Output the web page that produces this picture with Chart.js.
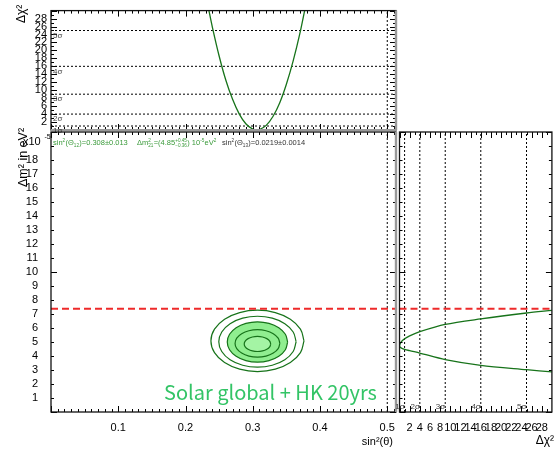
<!DOCTYPE html>
<html><head><meta charset="utf-8">
<script src="https://cdn.jsdelivr.net/npm/chart.js@4.4.1/dist/chart.umd.min.js"></script>
<style>
html,body{margin:0;padding:0;background:#fff;}
#wrap{position:relative;width:557px;height:452px;overflow:hidden;}
canvas{position:absolute;left:0;top:0;}
</style></head><body>
<div id="wrap">
<canvas id="cTop" width="557" height="452"></canvas>
<canvas id="cMain" width="557" height="452"></canvas>
<canvas id="cRight" width="557" height="452"></canvas>
</div>
<script>
// ---------------- data ----------------
const sin2Labels = [0.1, 0.2, 0.3, 0.4, 0.5];
const dm2Labels = [1,2,3,4,5,6,7,8,9,10,11,12,13,14,15,16,17,18];
const chi2Labels = [2,4,6,8,10,12,14,16,18,20,22,24,26,28];
const sigmaChi2 = [1, 4, 9, 16, 25];
const sigmaNames = ['1σ','2σ','3σ','4σ','5σ'];
const dm2KamLAND = 7.38;
const sin2Guide = 0.5;
const sin2Min = 0, sin2Max = 0.513;
const dm2Min = 0, dm2Max = 20;
const chi2Min = 0, chi2Max = 30;

// top panel: delta chi2 vs sin2(theta12)
const topSin2 = [0.234,0.24,0.25,0.26,0.27,0.28,0.29,0.30,0.306,0.31,0.32,0.33,0.34,0.35,0.36,0.37,0.38];
const topChi2 = [30.7,25.8,18.6,12.5,7.7,4.0,1.5,0.21,0,0.09,1.16,3.4,6.8,11.5,17.3,24.2,32.4];

// right panel: delta chi2 vs dm2
const rightChi2 = [30,25,16,9,4,2,1,0.3,0,0.3,1,2,4,9,16,25,30];
const rightDm2  = [2.86,3.02,3.33,3.74,4.21,4.38,4.475,4.58,4.71,4.99,5.23,5.44,5.74,6.26,6.65,7.07,7.26];

// contours (sin2, dm2)
const c1Sin2 = [0.3267,0.3252,0.3209,0.3145,0.307,0.2995,0.2931,0.2888,0.2873,0.2888,0.2931,0.2995,0.307,0.3145,0.3209,0.3252,0.3267];
const c1Dm2  = [4.86,5.067,5.242,5.359,5.40,5.359,5.242,5.067,4.86,4.653,4.478,4.361,4.32,4.361,4.478,4.653,4.86];
const c2Sin2 = [0.3403,0.3378,0.3305,0.3197,0.307,0.2943,0.2835,0.2762,0.2737,0.2762,0.2835,0.2943,0.307,0.3197,0.3305,0.3378,0.3403];
const c2Dm2  = [4.90,5.275,5.593,5.805,5.88,5.805,5.593,5.275,4.90,4.525,4.207,3.995,3.92,3.995,4.207,4.525,4.90];
const c3Sin2 = [0.3519,0.3485,0.3387,0.3242,0.307,0.2898,0.2753,0.2655,0.2621,0.2655,0.2753,0.2898,0.307,0.3242,0.3387,0.3485,0.3519];
const c3Dm2  = [5.00,5.551,6.018,6.33,6.44,6.33,6.018,5.551,5.00,4.449,3.982,3.67,3.56,3.67,3.982,4.449,5.00];
const c4Sin2 = [0.3645,0.3601,0.3477,0.329,0.307,0.285,0.2663,0.2539,0.2495,0.2539,0.2663,0.285,0.307,0.329,0.3477,0.3601,0.3645];
const c4Dm2  = [5.02,5.717,6.307,6.701,6.84,6.701,6.307,5.717,5.02,4.323,3.733,3.339,3.20,3.339,3.733,4.323,5.02];
const c5Sin2 = [0.3762,0.3709,0.3559,0.3335,0.307,0.2805,0.2581,0.2431,0.2378,0.2431,0.2581,0.2805,0.307,0.3335,0.3559,0.3709,0.3762];
const c5Dm2  = [5.08,5.918,6.628,7.103,7.27,7.103,6.628,5.918,5.08,4.242,3.532,3.057,2.89,3.057,3.532,4.242,5.08];

// ---------------- helpers ----------------
const FONT = '"Liberation Sans", Arial, Helvetica, sans-serif';
Chart.defaults.font.family = FONT;
Chart.defaults.color = '#000';
function zip(xs, ys){ return xs.map((x,i)=>({x:x, y:ys[i]})); }
function hSeg(y, x0, x1){ return [{x:x0,y:y},{x:x1,y:y}]; }
function vSeg(x, y0, y1){ return [{x:x,y:y0},{x:x,y:y1}]; }
function steps(min, max, step){ const o=[]; for(let i=0; min+i*step<=max+1e-9; i++) o.push(+(min+i*step).toFixed(6)); return o; }
function isMul(v, m){ const r=v/m; return Math.abs(r-Math.round(r))<1e-6; }

const GREEN = '#17731a';
const DOT = [2,2];

function lineDs(data, color, width, dash, order, extra){
  return Object.assign({data:data, showLine:true, borderColor:color, borderWidth:width,
    borderDash:dash||[], pointRadius:0, fill:false, tension:0, order:order}, extra||{});
}

function drawRich(ctx, x, y, parts, base, color){
  ctx.fillStyle = color; ctx.textAlign='left'; ctx.textBaseline='alphabetic';
  for (const p of parts){
    if (typeof p === 'string'){
      ctx.font = base+'px '+FONT; ctx.fillText(p, x, y); x += ctx.measureText(p).width;
    } else {
      const s = base*0.62; ctx.font = s+'px '+FONT; let w = 0;
      if (p.sup){ ctx.fillText(p.sup, x, y-base*0.42); w = Math.max(w, ctx.measureText(p.sup).width); }
      if (p.sub){ ctx.fillText(p.sub, x, y+base*0.25); w = Math.max(w, ctx.measureText(p.sub).width); }
      x += w + 0.3;
    }
  }
}

function makeDecor(cfg){
  return {
    id: 'decor_'+cfg.name,
    afterDraw(chart){
      const ctx = chart.ctx, a = chart.chartArea, xs = chart.scales.x, ys = chart.scales.y;
      ctx.save();
      ctx.strokeStyle = '#000'; ctx.lineWidth = 1;
      ctx.beginPath();
      for (const t of cfg.xTicks){
        const len = isMul(t, cfg.xMajor) ? 6 : 3;
        const p = Math.round(xs.getPixelForValue(t))+0.5;
        if (p < a.left-0.5 || p > a.right+0.5) continue;
        ctx.moveTo(p, a.bottom); ctx.lineTo(p, a.bottom-len);
        ctx.moveTo(p, a.top); ctx.lineTo(p, a.top+len);
      }
      for (const t of cfg.yTicks){
        const len = isMul(t, cfg.yMajor) ? 6 : 3;
        const p = Math.round(ys.getPixelForValue(t))+0.5;
        if (p < a.top-0.5 || p > a.bottom+0.5) continue;
        ctx.moveTo(a.left, p); ctx.lineTo(a.left+len, p);
        ctx.moveTo(a.right, p); ctx.lineTo(a.right-len, p);
      }
      ctx.stroke();
      // frame
      ctx.lineWidth = 1.3; ctx.strokeStyle = '#111';
      ctx.strokeRect(a.left, a.top, a.right-a.left, a.bottom-a.top);
      if (cfg.grayRight){
        ctx.strokeStyle = '#999'; ctx.lineWidth = 2.4;
        ctx.beginPath(); ctx.moveTo(a.right, a.top); ctx.lineTo(a.right, a.bottom); ctx.stroke();
      }
      if (cfg.grayBottom){
        ctx.strokeStyle = '#999'; ctx.lineWidth = 2.2;
        ctx.beginPath(); ctx.moveTo(a.left, a.bottom); ctx.lineTo(a.right, a.bottom); ctx.stroke();
      }
      if (cfg.extra) cfg.extra(chart, ctx, a, xs, ys);
      ctx.restore();
    }
  };
}

function baseOptions(pad){
  return {
    responsive:false, animation:false, events:[],
    layout:{padding:pad},
    plugins:{legend:{display:false}, tooltip:{enabled:false}},
  };
}

// ---------------- top panel ----------------
const topDatasets = [lineDs(zip(topSin2, topChi2), GREEN, 1.3, null, 0, {tension:0.3})];
sigmaChi2.forEach(l => topDatasets.push(lineDs(hSeg(l, sin2Min, sin2Max), '#000', 1, DOT, 2)));
topDatasets.push(lineDs(vSeg(sin2Guide, chi2Min, chi2Max), '#000', 1, DOT, 2));

new Chart(document.getElementById('cTop'), {
  type:'scatter',
  data:{datasets: topDatasets},
  options: Object.assign(baseOptions({top:4, left:0, right:161, bottom:322}), {
    scales:{
      x:{type:'linear', display:false, min:sin2Min, max:sin2Max},
      y:{type:'linear', min:chi2Min, max:chi2Max,
         afterFit(s){ s.width = 51; },
         afterBuildTicks(s){ s.ticks = chi2Labels.map(v=>({value:v})); },
         grid:{display:false, drawTicks:false}, border:{display:false},
         ticks:{font:{size:11}, color:'#000', padding:4, autoSkip:false}}
    }
  }),
  plugins:[makeDecor({name:'top', xTicks:steps(0,0.51,0.01), xMajor:0.1, yTicks:steps(0,30,1), yMajor:2,
    grayRight:true, grayBottom:true,
    extra(chart, ctx, a, xs, ys){
      ctx.fillStyle = '#444'; ctx.font = '8px '+FONT; ctx.textAlign='left'; ctx.textBaseline='top';
      sigmaChi2.forEach((l,i)=>{ ctx.fillText(sigmaNames[i], a.left+2, ys.getPixelForValue(l)+1); });
      ctx.save(); ctx.translate(25, 23); ctx.rotate(-Math.PI/2);
      ctx.fillStyle='#000'; ctx.font='12px '+FONT; ctx.textAlign='left'; ctx.textBaseline='alphabetic';
      ctx.fillText('Δχ²', 0, 0); ctx.restore();
    }})]
});

// ---------------- main panel ----------------
const mainDatasets = [
  lineDs(hSeg(dm2KamLAND, sin2Min, sin2Max), '#ee2a2a', 2, [7,4], 0),
  lineDs(vSeg(sin2Guide, dm2Min, dm2Max), '#000', 1, DOT, 1),
  lineDs(zip(c3Sin2, c3Dm2), GREEN, 1.2, null, 10, {tension:0.4, fill:'shape', backgroundColor:'#90ee90'}),
  lineDs(zip(c2Sin2, c2Dm2), GREEN, 1.2, null, 9, {tension:0.4}),
  lineDs(zip(c1Sin2, c1Dm2), GREEN, 1.2, null, 8, {tension:0.4, fill:'shape', backgroundColor:'#a4f4a4'}),
  lineDs(zip(c4Sin2, c4Dm2), GREEN, 1.2, null, 7, {tension:0.4}),
  lineDs(zip(c5Sin2, c5Dm2), GREEN, 1.2, null, 6, {tension:0.4}),
];

new Chart(document.getElementById('cMain'), {
  type:'scatter',
  data:{datasets: mainDatasets},
  options: Object.assign(baseOptions({top:132, left:0, right:161, bottom:0}), {
    scales:{
      x:{type:'linear', min:sin2Min, max:sin2Max,
         afterFit(s){ s.height = 40; },
         afterBuildTicks(s){ s.ticks = sin2Labels.map(v=>({value:v})); },
         grid:{display:false, drawTicks:false}, border:{display:false},
         ticks:{font:{size:11}, color:'#000', padding:9, autoSkip:false, maxRotation:0,
                callback:(v)=>String(v)}},
      y:{type:'linear', min:dm2Min, max:dm2Max,
         afterFit(s){ s.width = 51; },
         afterBuildTicks(s){ s.ticks = dm2Labels.map(v=>({value:v})); },
         grid:{display:false, drawTicks:false}, border:{display:false},
         ticks:{font:{size:11}, color:'#000', padding:13, autoSkip:false}}
    }
  }),
  plugins:[makeDecor({name:'main', xTicks:steps(0,0.51,0.01), xMajor:0.1, yTicks:steps(0,20,1), yMajor:10,
    grayRight:true,
    extra(chart, ctx, a, xs, ys){
      drawRich(ctx, a.left+2, 145, ['sin',{sup:'2'},'(Θ',{sub:'12'},')=0.308±0.013'], 7.5, '#3a9a3a');
      drawRich(ctx, 137, 145, ['Δm',{sup:'2',sub:'21'},'=(4.85',{sup:'+0.45',sub:'−0.36'},') 10',{sup:'-5'},'eV',{sup:'2'}], 7.5, '#3a9a3a');
      drawRich(ctx, 222, 145, ['sin',{sup:'2'},'(Θ',{sub:'13'},')=0.0219±0.0014'], 7.5, '#333');
      // big label
      ctx.fillStyle = '#33c466'; ctx.textAlign='left'; ctx.textBaseline='alphabetic';
      ctx.font = '20px "Noto Sans CJK JP", "Noto Sans", sans-serif';
      const txt = 'Solar global + HK 20yrs';
      const w = ctx.measureText(txt).width;
      const fs = 20*213/w;
      ctx.font = fs.toFixed(2)+'px "Noto Sans CJK JP", "Noto Sans", sans-serif';
      ctx.fillText(txt, 164, 400);
      // axis titles
      ctx.fillStyle = '#000';
      ctx.save(); ctx.translate(27, 187); ctx.rotate(-Math.PI/2);
      ctx.font = '12.5px '+FONT; ctx.textAlign='left'; ctx.textBaseline='alphabetic';
      ctx.fillText('Δm² in eV²', 0, 0); ctx.restore();
      ctx.font = '11px '+FONT; ctx.textAlign='left'; ctx.textBaseline='alphabetic';
      ctx.fillText('x10', 23, 145);
      ctx.font = '7px '+FONT; ctx.fillText('-5', 44.5, 139);
      ctx.font = '11px '+FONT; ctx.textAlign='right';
      ctx.fillText('sin²(θ)', 393, 445);
    }})]
});

// ---------------- right panel ----------------
const rightDatasets = [
  lineDs(hSeg(dm2KamLAND, chi2Min, chi2Max), '#ee2a2a', 2, [7,4], 0),
  lineDs(zip(rightChi2, rightDm2), GREEN, 1.3, null, 1, {tension:0.3}),
];
sigmaChi2.forEach(l => rightDatasets.push(lineDs(vSeg(l, dm2Min, dm2Max), '#000', 1, DOT, 2)));

new Chart(document.getElementById('cRight'), {
  type:'scatter',
  data:{datasets: rightDatasets},
  options: Object.assign(baseOptions({top:132, left:399.5, right:2, bottom:0}), {
    scales:{
      x:{type:'linear', min:chi2Min, max:chi2Max,
         afterFit(s){ s.height = 40; },
         afterBuildTicks(s){ s.ticks = chi2Labels.map(v=>({value:v})); },
         grid:{display:false, drawTicks:false}, border:{display:false},
         ticks:{font:{size:11}, color:'#000', padding:9, autoSkip:false, maxRotation:0}},
      y:{type:'linear', display:false, min:dm2Min, max:dm2Max}
    }
  }),
  plugins:[makeDecor({name:'right', xTicks:steps(0,30,1), xMajor:2, yTicks:steps(0,20,1), yMajor:10,
    extra(chart, ctx, a, xs, ys){
      ctx.fillStyle = '#444'; ctx.font = '8px '+FONT; ctx.textAlign='right'; ctx.textBaseline='bottom';
      sigmaChi2.forEach((l,i)=>{ ctx.fillText(sigmaNames[i], xs.getPixelForValue(l), a.bottom-1); });
      ctx.fillStyle = '#000'; ctx.font = '12px '+FONT; ctx.textAlign='right'; ctx.textBaseline='alphabetic';
      ctx.fillText('Δχ²', 554, 444);
    }})]
});
</script>
</body></html>
